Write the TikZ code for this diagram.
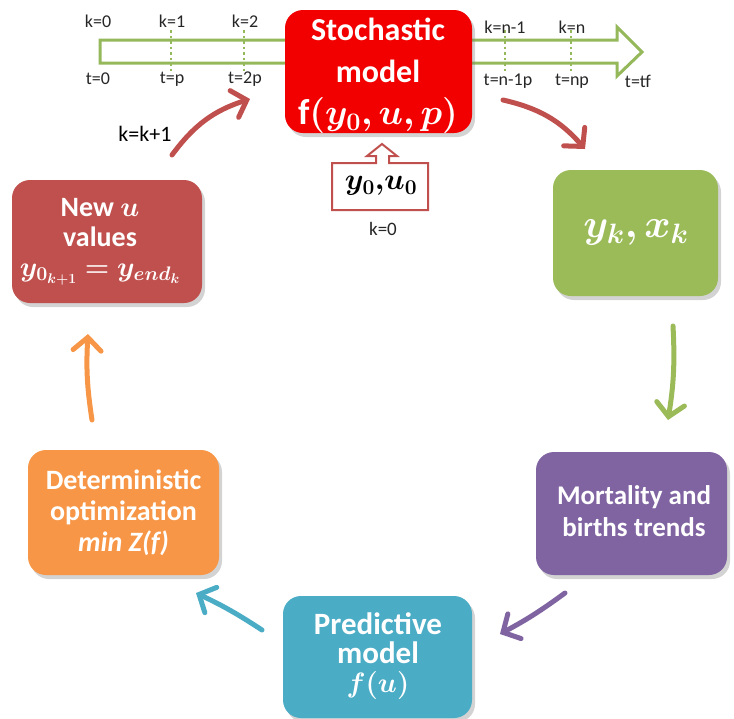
\RequirePackage{fix-cm}
\documentclass[tikz,border=0pt]{standalone}
\usepackage{amsmath,bm}
\usepackage{fontspec}
\setmainfont{Carlito}
\usetikzlibrary{arrows.meta,shadows}

\definecolor{stochred}{HTML}{F20000}
\definecolor{brickred}{HTML}{C0504D}
\definecolor{leafgreen}{HTML}{9BBB59}
\definecolor{plumbox}{HTML}{8064A2}
\definecolor{cyanbox}{HTML}{4BACC6}
\definecolor{tangerine}{HTML}{F79646}
\definecolor{timegreen}{HTML}{94B85A}
\definecolor{labelgray}{HTML}{262626}

\tikzset{
  stagebox/.style={rectangle, rounded corners=18pt, draw=none, inner sep=0pt,
    drop shadow={shadow xshift=3pt, shadow yshift=-4pt, opacity=0.35}},
  boxtext/.style={text=white, align=center, inner sep=0pt},
  ticklabel/.style={text=labelgray, font=\fontsize{18}{20}\selectfont, inner sep=0pt},
  tickline/.style={timegreen, line width=2.5pt, dash pattern=on 2.5pt off 3pt},
  flow/.style={line width=5pt, line cap=round,
    -{Straight Barb[length=13pt,width=28pt,line cap=round]}},
}

\begin{document}
\begin{tikzpicture}[x=1pt,y=-1pt]
\useasboundingbox (0,0) rectangle (734,718);

% time axis drawn as a hollow arrow
\draw[timegreen, line width=3pt, line join=miter]
  (100,40) -- (617,40) -- (617,27) -- (642,52) -- (617,76) -- (617,63) -- (100,63) -- cycle;

% ticks on the time axis
\foreach \x in {171,244,505,571}
  \draw[tickline] (\x,30) -- (\x,73);

\node[ticklabel] (k0)  at (98,21)  {k=0};
\node[ticklabel] (k1)  at (172,21) {k=1};
\node[ticklabel] (k2)  at (245,21) {k=2};
\node[ticklabel] (kn1) at (505,27) {k=n-1};
\node[ticklabel] (kn)  at (572,27) {k=n};
\node[ticklabel] (t0)  at (98,79)  {t=0};
\node[ticklabel] (t1)  at (172,79) {t=p};
\node[ticklabel] (t2)  at (245,79) {t=2p};
\node[ticklabel] (tn1) at (508,81) {t=n-1p};
\node[ticklabel] (tn)  at (572,81) {t=np};
\node[ticklabel] (tf)  at (638,81) {t=tf};

% stage boxes of the loop
\node[stagebox, fill=stochred, minimum width=187pt, minimum height=123pt] (stoch) at (378.5,71.5) {};
\node[boxtext, font=\fontsize{32}{42}\selectfont\bfseries] (stochtxt) at (378,76)
  {Stochastic\\model\\{\fontsize{36}{42}\selectfont$\bm{\mathrm{f}(y_0,u,p)}$}};

\node[stagebox, fill=leafgreen, minimum width=165pt, minimum height=126pt] (state) at (635.5,233) {};
\node[boxtext, font=\fontsize{40}{44}\selectfont] (statetxt) at (636,232) {$\bm{y_k{,}\,x_k}$};

\node[stagebox, fill=plumbox, minimum width=191pt, minimum height=123pt] (trend) at (631.5,513.5) {};
\node[boxtext, font=\fontsize{27}{32}\selectfont\bfseries] (trendtxt) at (634,511)
  {Mortality and\\births trends};

\node[stagebox, fill=cyanbox, minimum width=189pt, minimum height=122pt] (pred) at (377.5,657) {};
\node[boxtext, font=\fontsize{31}{29}\selectfont\bfseries] (predtxt) at (378,656)
  {Predictive\\model\\{\fontsize{28}{29}\selectfont$\bm{f(u)}$}};

\node[stagebox, fill=tangerine, minimum width=191pt, minimum height=125pt] (opt) at (123.5,512.5) {};
\node[boxtext, font=\fontsize{28}{31}\selectfont\bfseries] (opttxt) at (123.5,513)
  {Deterministic\\optimization\\\textit{min Z(f)}};

\node[stagebox, fill=brickred, minimum width=190pt, minimum height=123pt] (newu) at (107,241.5) {};
\node[boxtext, font=\fontsize{28}{30}\selectfont\bfseries] (newutxt) at (100,242)
  {New $\bm{u}$\\values\\{\fontsize{28}{32}\selectfont$\bm{y_{0_{k+1}}=y_{end_k}}$}};

% initial values fed into the stochastic model
\draw[brickred, line width=2pt, fill=white]
  (332,163) -- (376,163) -- (376,156) -- (367,156) -- (382,144) -- (397,156)
  -- (389,156) -- (389,163) -- (428,163) -- (428,210) -- (332,210) -- cycle;
\node[font=\fontsize{30}{32}\selectfont, inner sep=0pt] (init) at (381,186) {$\bm{y_0{,}u_0}$};
\node[ticklabel, font=\fontsize{19}{20}\selectfont] (kstart) at (383,229) {k=0};

\node[text=black, font=\fontsize{22}{24}\selectfont, inner sep=0pt] (kinc) at (145,134) {k=k+1};

% loop arrows
\coordinate (a1s) at (172,155);  \coordinate (a1e) at (250,99);
\coordinate (a2s) at (503,100);  \coordinate (a2e) at (585,149);
\coordinate (a3s) at (673,326);  \coordinate (a3e) at (668,420);
\coordinate (a4s) at (565,593);  \coordinate (a4e) at (500,634);
\coordinate (a5s) at (262,630);  \coordinate (a5e) at (196,593);
\coordinate (a6s) at (92,420);   \coordinate (a6e) at (88,334);

\draw[flow, brickred]  (a1s) to[bend left=18] (a1e);
\draw[flow, brickred]  (a2s) to[bend left=18] (a2e);
\draw[flow, leafgreen] (a3s) to[bend left=6]  (a3e);
\draw[flow, plumbox]   (a4s) to[bend left=4]  (a4e);
\draw[flow, cyanbox]   (a5s) to[bend right=4] (a5e);
\draw[flow, tangerine] (a6s) to[bend left=6]  (a6e);
\end{tikzpicture}
\end{document}
